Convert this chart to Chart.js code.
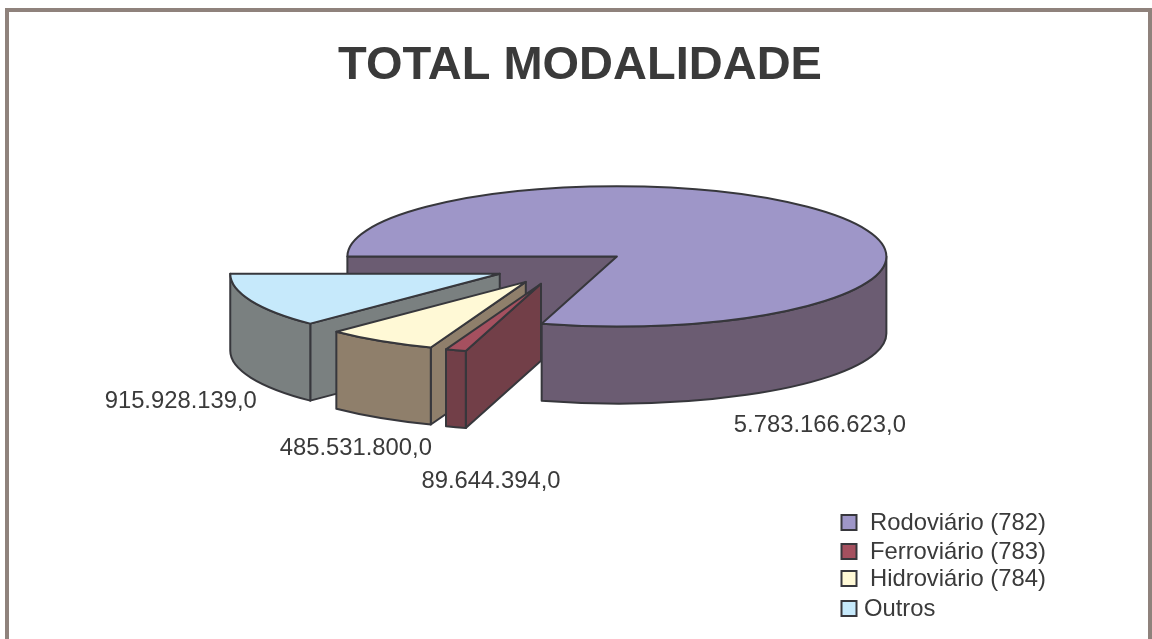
<!DOCTYPE html>
<html>
<head>
<meta charset="utf-8">
<script src="https://cdn.jsdelivr.net/npm/chart.js@4/dist/chart.umd.min.js"></script>
<style>
html,body{margin:0;padding:0;background:#fff;overflow:hidden}
#frame{position:absolute;left:5px;top:8px;width:1147px;height:631px;box-sizing:border-box;
 border-left:4px solid #8f827c;border-top:4px solid #8f827c;border-right:4px solid #8f827c}
canvas{position:absolute;left:0;top:0}
</style>
</head>
<body>
<canvas id="c" width="1152" height="639"></canvas>
<div id="frame"></div>
<script>
const categories = ['Rodoviário (782)', 'Ferroviário (783)', 'Hidroviário (784)', 'Outros'];
const values = [5783166623, 89644394, 485531800, 915928139];
const valueLabels = ['5.783.166.623,0', '89.644.394,0', '485.531.800,0', '915.928.139,0'];
const topColors = ['#9e96c8', '#a5505f', '#fff9d6', '#c6e9fb'];
const sideColors = ['#6b5c72', '#723f48', '#8f7f6b', '#7a8080'];

const INK = '#37373c', TEXT = '#3a3a3a';
const view = {cx: 562.5, cy: 267, squash: 0.26, depth: 77, explode: 68, radius: 269.5};
const labelNudge = [[203, 169], [-50, 198], [-170, 167], [-319, 128]];
const legendBox = {x: 841.5, y: 515, size: 15, rows: [0, 29, 56, 86], textX: [870, 870, 870, 864]};
const FONT = '"Liberation Sans", Arial, sans-serif';

const pie3d = {
  id: 'pie3d',
  beforeDatasetsDraw(chart) {
    const ctx = chart.ctx, r = view.squash, arcs = chart.getDatasetMeta(0).data;
    const apexOf = el => {
      const m = (el.startAngle + el.endAngle) / 2;
      return {x: view.cx + view.explode * Math.cos(m), y: view.cy + view.explode * r * Math.sin(m)};
    };
    [0, 3, 2, 1].forEach(i => {
      const el = arcs[i], a = apexOf(el), R = el.outerRadius, Ry = R * r, d = view.depth;
      ctx.save();
      ctx.lineWidth = 2; ctx.strokeStyle = INK; ctx.lineJoin = 'round';
      ctx.fillStyle = sideColors[i];
      // radial cut face on the starting edge, when it looks towards the viewer
      if (Math.cos(el.startAngle) < 0) {
        const ex = a.x + R * Math.cos(el.startAngle), ey = a.y + Ry * Math.sin(el.startAngle);
        ctx.beginPath();
        ctx.moveTo(a.x, a.y); ctx.lineTo(ex, ey); ctx.lineTo(ex, ey + d); ctx.lineTo(a.x, a.y + d);
        ctx.closePath(); ctx.fill(); ctx.stroke();
      }
      // outer rim
      const lo = Math.max(el.startAngle, 0), hi = Math.min(el.endAngle, Math.PI);
      if (hi > lo) {
        ctx.beginPath();
        ctx.ellipse(a.x, a.y, R, Ry, 0, lo, hi);
        ctx.ellipse(a.x, a.y + d, R, Ry, 0, hi, lo, true);
        ctx.closePath(); ctx.fill(); ctx.stroke();
      }
      ctx.restore();
      // top face: the library's own arc, through a flattening transform
      ctx.save();
      ctx.transform(1, 0, 0, r, a.x - el.x, a.y - el.y * r);
      el.draw(ctx);
      ctx.restore();
      ctx.save();
      ctx.lineWidth = 2; ctx.strokeStyle = INK; ctx.lineJoin = 'round';
      ctx.beginPath();
      ctx.moveTo(a.x, a.y);
      ctx.ellipse(a.x, a.y, R, Ry, 0, el.startAngle, el.endAngle);
      ctx.closePath(); ctx.stroke();
      ctx.restore();
    });
    return false;
  },
  afterDraw(chart) {
    const ctx = chart.ctx, r = view.squash, arcs = chart.getDatasetMeta(0).data;
    ctx.save();
    ctx.fillStyle = TEXT;
    ctx.font = '23.8px ' + FONT;
    ctx.textBaseline = 'middle';
    ctx.textAlign = 'center';
    arcs.forEach((el, i) => {
      const m = (el.startAngle + el.endAngle) / 2;
      ctx.fillText(valueLabels[i],
        view.cx + view.explode * Math.cos(m) + labelNudge[i][0],
        view.cy + view.explode * r * Math.sin(m) + labelNudge[i][1]);
    });
    ctx.textAlign = 'left';
    categories.forEach((name, i) => {
      const y = legendBox.y + legendBox.rows[i];
      ctx.fillStyle = topColors[i];
      ctx.fillRect(legendBox.x, y, legendBox.size, legendBox.size);
      ctx.lineWidth = 2; ctx.strokeStyle = INK;
      ctx.strokeRect(legendBox.x, y, legendBox.size, legendBox.size);
      ctx.fillStyle = TEXT;
      ctx.fillText(name, legendBox.textX[i], y + legendBox.size / 2 + 1);
    });
    ctx.restore();
  }
};

new Chart(document.getElementById('c'), {
  type: 'pie',
  data: {
    labels: categories,
    datasets: [{data: values, backgroundColor: topColors, borderWidth: 0}]
  },
  options: {
    responsive: false,
    animation: false,
    rotation: -90,
    radius: view.radius,
    layout: {padding: {left: 8, top: 38}},
    plugins: {
      legend: {display: false},
      tooltip: {enabled: false},
      title: {display: true, text: 'TOTAL MODALIDADE', color: TEXT,
              font: {family: FONT, size: 47, weight: 'bold'}, padding: {top: 0, bottom: 10}}
    }
  },
  plugins: [pie3d]
});
</script>
</body>
</html>
